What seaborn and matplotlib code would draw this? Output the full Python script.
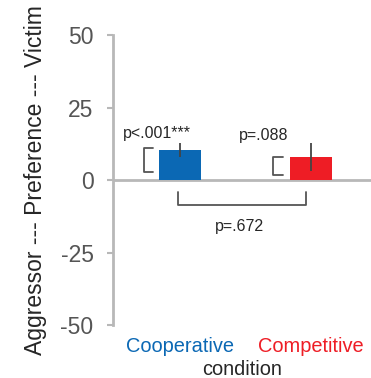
import matplotlib
matplotlib.use("Agg")
import matplotlib.pyplot as plt
import seaborn as sns
import pandas as pd

conditions = ["Cooperative", "Competitive"]
preference = [10.3, 7.9]
sem = [2.4, 4.7]
bar_colors = ["#0b68b4", "#ee1d25"]
y_ticks = [-50, -25, 0, 25, 50]

# within-condition tests (vs zero) and between-condition test
p_within = ["p<.001***", "p=.088"]
p_between = "p=.672"

sns.set_style("white")
plt.rcParams["font.family"] = ["Liberation Sans", "DejaVu Sans"]
plt.rcParams["axes.unicode_minus"] = False

df = pd.DataFrame({"condition": conditions, "preference": preference})

fig = plt.figure(figsize=(3.71, 3.78), dpi=100)
ax = fig.add_axes([0.3046, 0.1402, 0.6954, 0.7672])

sns.barplot(data=df, x="condition", y="preference", hue="condition",
            palette=bar_colors, width=0.32, legend=False, ax=ax, saturation=1,
            linewidth=0, edgecolor="none")
ax.errorbar(range(len(conditions)), preference, yerr=sem, fmt="none",
            ecolor="#444444", elinewidth=1.3, capsize=0)

ax.axhline(0, color="#b8b8b8", lw=2, zorder=0.5)

ax.set_xlim(-0.511, 1.458)
ax.set_ylim(-50, 50)
ax.set_yticks(y_ticks)
ax.tick_params(axis="y", left=True, length=4, width=1.5, color="#b8b8b8",
               labelsize=16.5, labelcolor="#555555", pad=10)
ax.tick_params(axis="x", bottom=False, labelsize=14.4, pad=5)
for lbl, c in zip(ax.get_xticklabels(), bar_colors):
    lbl.set_color(c)

for s in ["top", "right", "bottom"]:
    ax.spines[s].set_visible(False)
ax.spines["left"].set_color("#b8b8b8")
ax.spines["left"].set_linewidth(2)

ax.set_xlabel("condition", fontsize=14.4, labelpad=3)
ax.set_ylabel("Aggressor --- Preference --- Victim", fontsize=16.5, labelpad=10)

# brackets next to bars (test vs zero)
br = "#555555"
ax.plot([-0.206, -0.275, -0.275, -0.206], [11.0, 11.0, 2.8, 2.8], color=br, lw=1.3)
ax.plot([0.786, 0.71, 0.71, 0.786], [7.9, 7.9, 1.7, 1.7], color=br, lw=1.3)
# bracket between conditions
ax.plot([-0.015, -0.015, 0.96, 0.96], [-4.1, -8.6, -8.6, -4.1], color=br, lw=1.3)

ax.text(-0.176, 16.2, p_within[0], ha="center", va="center", fontsize=11.5)
ax.text(0.637, 15.5, p_within[1], ha="center", va="center", fontsize=11.5)
ax.text(0.458, -16.2, p_between, ha="center", va="center", fontsize=11.5)

fig.savefig("out.png", dpi=100)
